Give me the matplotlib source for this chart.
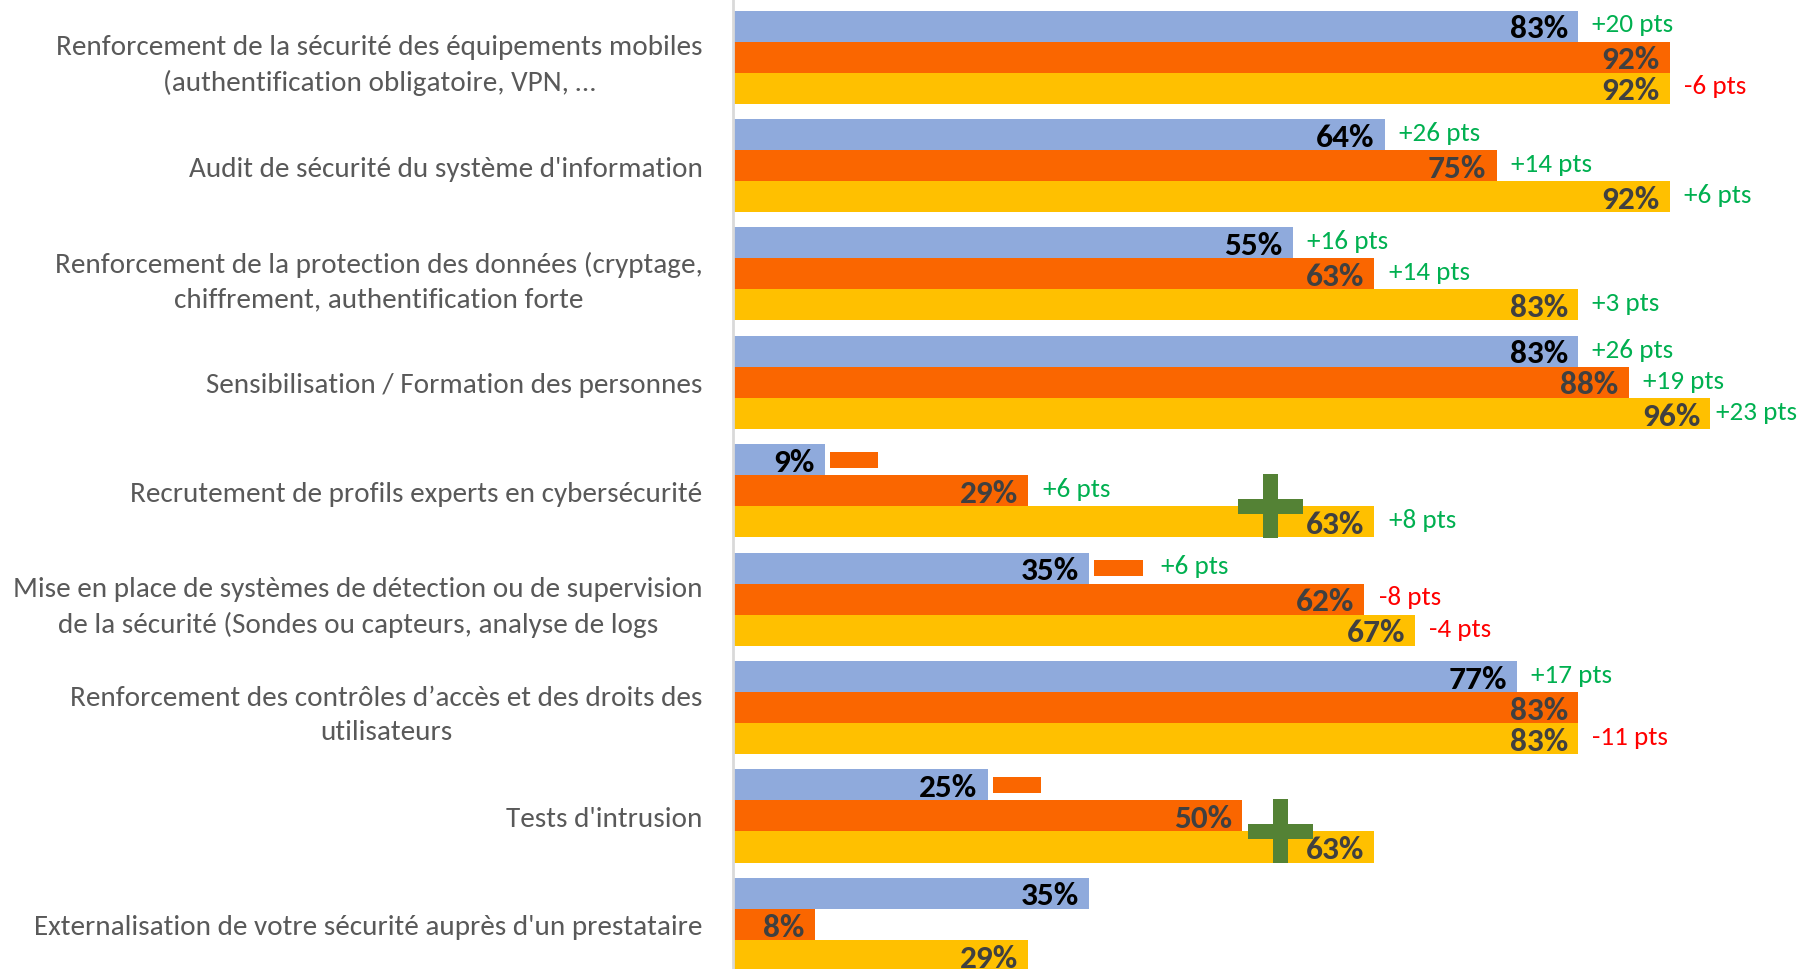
import matplotlib.pyplot as plt
from matplotlib.patches import Rectangle

# categories, top to bottom
categories = [
    "Renforcement de la sécurité des équipements mobiles\n(authentification obligatoire, VPN, …",
    "Audit de sécurité du système d'information",
    "Renforcement de la protection des données (cryptage,\nchiffrement, authentification forte",
    "Sensibilisation / Formation des personnes",
    "Recrutement de profils experts en cybersécurité",
    "Mise en place de systèmes de détection ou de supervision\nde la sécurité (Sondes ou capteurs, analyse de logs",
    "Renforcement des contrôles d’accès et des droits des\nutilisateurs",
    "Tests d'intrusion",
    "Externalisation de votre sécurité auprès d'un prestataire",
]

# series values (%)
blue = [83, 64, 55, 83, 9, 35, 77, 25, 35]
orange = [92, 75, 63, 88, 29, 62, 83, 50, 8]
yellow = [92, 92, 83, 96, 63, 67, 83, 63, 29]

# evolution labels (pts) next to each bar, None = no label
delta_blue = [20, 26, 16, 26, None, 6, 17, None, None]
delta_orange = [None, 14, 14, 19, 6, -8, None, None, None]
delta_yellow = [-6, 6, 3, 23, 8, -4, -11, None, None]

# groups with the small orange "minus" sign after the blue bar
minus_groups = [4, 5, 7]
# groups with a green "plus" sign (x in %)
plus_groups = {4: 52.8, 7: 53.8}

C_BLUE = "#8FAADC"
C_ORANGE = "#FA6600"
C_YELLOW = "#FFC000"
C_PLUS = "#548235"
C_GREEN = "#00B050"
C_RED = "#FF0000"

plt.rcParams['font.family'] = ['Carlito', 'Lato', 'DejaVu Sans']

fig = plt.figure(figsize=(18.03, 9.70), dpi=100)
ax = fig.add_axes([0.4066, 0.0, 0.5934, 1.0])

h = 0.2865
n = len(categories)
ys = list(range(n))

series = [(blue, C_BLUE, -h, "black", delta_blue),
          (orange, C_ORANGE, 0, "#404040", delta_orange),
          (yellow, C_YELLOW, h, "#404040", delta_yellow)]

for vals, col, off, tcol, deltas in series:
    pos = [y + off for y in ys]
    ax.barh(pos, vals, height=h, color=col, edgecolor="none")
    for i, (p, v) in enumerate(zip(pos, vals)):
        ax.text(v - 1.0, p + 0.02, f"{v}%", ha="right", va="center",
                fontsize=24, fontweight="bold", color=tcol)
        d = deltas[i]
        if d is None:
            continue
        x = v + (1.4 if v < 95 else 0.6)
        if vals is blue and i in minus_groups:
            x = v + 7.0
        ax.text(x, p - 0.02, f"{d:+d} pts", ha="left", va="center",
                fontsize=19.5, color=C_GREEN if d > 0 else C_RED)

# orange minus signs
for i in minus_groups:
    ax.add_patch(Rectangle((blue[i] + 0.5, ys[i] - h - 0.072), 4.75, 0.145,
                           color=C_ORANGE, lw=0))

# green plus signs, centred on the orange/yellow boundary
for i, xc in plus_groups.items():
    yc = ys[i] + h / 2
    ax.add_patch(Rectangle((xc - 3.2, yc - 0.067), 6.4, 0.134, color=C_PLUS, lw=0, zorder=3))
    ax.add_patch(Rectangle((xc - 0.72, yc - 0.295), 1.44, 0.59, color=C_PLUS, lw=0, zorder=3))

ax.set_xlim(0, 105.1)
ax.set_ylim(8.412, -0.536)
ax.set_yticks(ys)
ax.set_yticklabels(categories, fontsize=21, color="#595959", ha="right",
                   multialignment="center", linespacing=1.45)
ax.tick_params(axis="y", length=0, pad=22)
ax.set_xticks([])
for s in ["top", "right", "bottom"]:
    ax.spines[s].set_visible(False)
ax.spines["left"].set_color("#D9D9D9")
ax.spines["left"].set_linewidth(2)

fig.savefig("out.png", dpi=100)
